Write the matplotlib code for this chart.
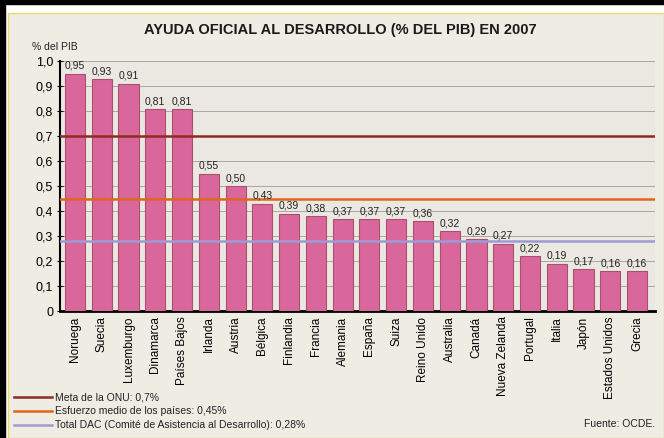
import matplotlib.pyplot as plt
from matplotlib.patches import Rectangle
from matplotlib.lines import Line2D

paises = ['Noruega', 'Suecia', 'Luxemburgo', 'Dinamarca', 'Países Bajos', 'Irlanda',
          'Austria', 'Bélgica', 'Finlandia', 'Francia', 'Alemania', 'España', 'Suiza',
          'Reino Unido', 'Australia', 'Canadá', 'Nueva Zelanda', 'Portugal', 'Italia',
          'Japón', 'Estados Unidos', 'Grecia']
ayuda = [0.95, 0.93, 0.91, 0.81, 0.81, 0.55, 0.50, 0.43, 0.39, 0.38, 0.37, 0.37, 0.37,
         0.36, 0.32, 0.29, 0.27, 0.22, 0.19, 0.17, 0.16, 0.16]

referencias = [0.70, 0.45, 0.28]
ref_textos = ['Meta de la ONU: 0,7%',
              'Esfuerzo medio de los países: 0,45%',
              'Total DAC (Comité de Asistencia al Desarrollo): 0,28%']
ref_colores = ['#8e2b22', '#e0661e', '#9c9cd4']

yticks = [0, 0.1, 0.2, 0.3, 0.4, 0.5, 0.6, 0.7, 0.8, 0.9, 1.0]
ylabels = ['0', '0,1', '0,2', '0,3', '0,4', '0,5', '0,6', '0,7', '0,8', '0,9', '1,0']

plt.rcParams['font.family'] = ['Liberation Sans', 'DejaVu Sans']

W, H = 664, 438
fig = plt.figure(figsize=(W / 100, H / 100), dpi=100, facecolor='white')

# marco del recorte
fig.patches.append(Rectangle((0, 0), 5 / W, 1, transform=fig.transFigure, color='black', zorder=-10))
fig.patches.append(Rectangle((0, 1 - 4 / H), 1, 4 / H, transform=fig.transFigure, color='black', zorder=-10))
fig.patches.append(Rectangle((8 / W, 0), 1 - 8 / W, 1 - 13 / H, transform=fig.transFigure,
                             facecolor='#efece4', edgecolor='#e8d870', lw=1.0, zorder=-10))

ax = fig.add_axes([60 / W, 1 - 311 / H, 595 / W, 250 / H])
ax.set_facecolor('#ebe8e2')

x = range(len(paises))
ax.bar(x, ayuda, width=0.75, color='#d9679b', edgecolor='#a9506f', lw=0.8, zorder=3)
for i, v in zip(x, ayuda):
    ax.text(i, v + 0.01, f'{v:.2f}'.replace('.', ','), ha='center', va='bottom',
            fontsize=7.5, color='#222222', zorder=5)

for r, c in zip(referencias, ref_colores):
    ax.axhline(r, color=c, lw=1.8, zorder=4)

ax.set_ylim(0, 1.0)
ax.set_xlim(-0.56, len(paises) - 1 + 0.67)
ax.set_yticks(yticks)
ax.set_yticklabels(ylabels, fontsize=9)
ax.set_xticks(list(x))
ax.set_xticklabels(paises, rotation=90, fontsize=8.5)
ax.tick_params(axis='x', length=0, pad=4)
ax.tick_params(axis='y', length=4, direction='inout', width=0.8, pad=3)
ax.grid(True, axis='y', color='#a9a6a2', lw=0.7, zorder=0)

for s in ['top', 'right']:
    ax.spines[s].set_visible(False)
ax.spines['left'].set_linewidth(1.5)
ax.spines['bottom'].set_linewidth(2.0)

fig.text(340 / W, 1 - 30 / H, 'AYUDA OFICIAL AL DESARROLLO (% DEL PIB) EN 2007',
         ha='center', va='center', fontsize=10.5, fontweight='bold', color='#1a1a1a')
fig.text(32 / W, 1 - 47 / H, '% del PIB', ha='left', va='center', fontsize=7.5, color='#222222')

for k, (t, c) in enumerate(zip(ref_textos, ref_colores)):
    yy = 1 - (397 + 14 * k) / H
    fig.lines.append(Line2D([14 / W, 52 / W], [yy, yy], transform=fig.transFigure, color=c, lw=1.8))
    fig.text(55 / W, yy, t, ha='left', va='center', fontsize=7.5, color='#222222')
fig.text(655 / W, 1 - 424 / H, 'Fuente: OCDE.', ha='right', va='center', fontsize=7.5, color='#222222')

fig.savefig('out.png', dpi=100, facecolor=fig.get_facecolor())
